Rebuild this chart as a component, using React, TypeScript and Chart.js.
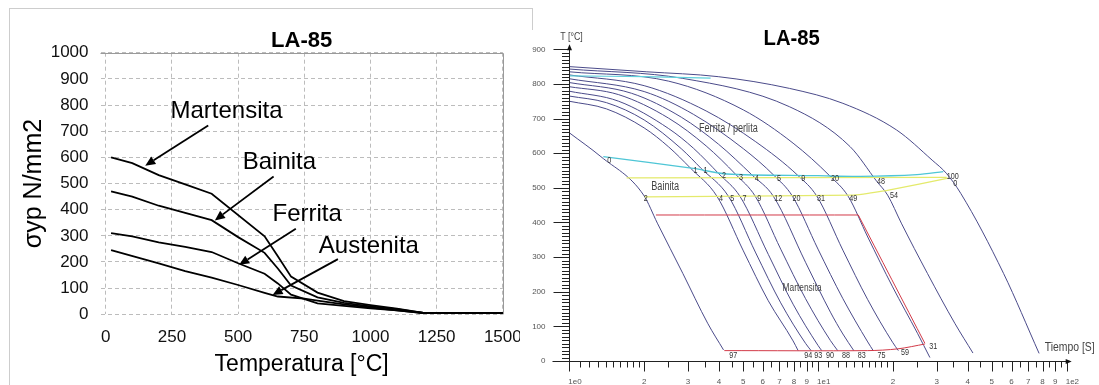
import React, { useEffect, useRef } from 'react';
import { Chart, registerables } from 'chart.js';

Chart.register(...registerables);

const FONT = '"Liberation Sans", Arial, Helvetica, sans-serif';
Chart.defaults.font.family = FONT;

// ---------------- Left chart (yield stress vs temperature) ----------------
const leftTitle = 'LA-85';
const leftXTitle = 'Temperatura [°C]';
const leftYTitle = 'σyp N/mm2';
const tempTicks = [0, 250, 500, 750, 1000, 1250, 1500];

const martX = [20, 100, 200, 300, 400, 600, 650, 700, 800, 900, 1000, 1100, 1200, 1500];
const martY = [600, 578, 532, 497, 461, 298, 222, 144, 83, 50, 35, 22, 5, 5];
const bainX = [20, 100, 200, 300, 400, 500, 600, 650, 700, 800, 900, 1000, 1100, 1200, 1500];
const bainY = [470, 450, 415, 388, 360, 295, 235, 175, 110, 65, 44, 30, 20, 5, 5];
const ferrX = [20, 100, 200, 300, 400, 500, 600, 650, 700, 800, 900, 1000, 1100, 1200, 1500];
const ferrY = [310, 298, 275, 258, 238, 195, 155, 118, 75, 42, 32, 23, 15, 5, 5];
const austX = [20, 200, 300, 400, 500, 600, 650, 750, 800, 900, 1000, 1100, 1200, 1500];
const austY = [245, 195, 165, 140, 112, 82, 68, 60, 52, 38, 26, 15, 5, 5];

const annLabels = ['Martensita', 'Bainita', 'Ferrita', 'Austenita'];
const annTextX = [456, 656, 761, 994];
const annTextY = [776, 582, 381, 259];
const annFromX = [387, 634, 718, 877];
const annFromY = [722, 527, 327, 211];
const annToX = [149, 412, 504, 630];
const annToY = [568, 359, 189, 74];

// ---------------- Right chart (CCT diagram) ----------------
const rightTitle = 'LA-85';
const rightYTitle = 'T [°C]';
const rightXTitle = 'Tiempo [S]';

const tA = [1, 1.34, 1.99, 2.26, 2.86, 3.6, 4.17];
const TA = [659, 590, 479, 398, 253, 109, 32];
const tB = [1, 1.41, 2.0, 2.51, 3.07, 3.92, 5.01, 6.31, 7.94, 8.32];
const TB = [750, 728, 673, 618, 557, 476, 318, 174, 58, 30];
const tC = [1, 1.41, 2.0, 2.82, 3.39, 4.36, 5.62, 7.08, 8.91, 9.38];
const TC = [765, 746, 696, 613, 556, 476, 312, 168, 51, 30];
const tD = [1, 1.58, 2.51, 3.16, 4.0, 4.85, 6.31, 7.94, 10.0, 10.35];
const TD = [779, 750, 671, 614, 540, 476, 308, 164, 45, 30];
const tE = [1, 1.58, 2.51, 3.55, 4.68, 5.59, 7.08, 8.91, 11.22, 12.0];
const TE = [792, 769, 701, 621, 538, 476, 323, 180, 59, 30];
const tF = [1, 1.78, 2.82, 3.98, 5.43, 6.61, 8.91, 11.22, 12.59, 13.93];
const TF = [804, 773, 704, 626, 537, 476, 285, 141, 78, 30];
const tG = [1, 2.0, 3.16, 5.01, 6.65, 7.89, 10.0, 12.59, 15.85, 16.67];
const TG = [815, 778, 712, 613, 536, 476, 323, 180, 55, 30];
const tH = [1, 2.0, 3.55, 5.62, 8.32, 9.89, 12.59, 15.85, 19.95, 21.04];
const TH = [826, 795, 722, 633, 535, 476, 320, 177, 54, 30];
const tI = [1, 2.51, 5.01, 7.94, 11.17, 13.21, 15.85, 19.95, 25.12, 28.18];
const TI = [835, 808, 725, 629, 534, 476, 358, 214, 80, 10];
const tJ = [1, 2.86, 7.69, 13.46, 17.26, 19.05, 21.63, 27.54, 35.48, 41.98];
const TJ = [843, 816, 734, 619, 518, 479, 398, 253, 109, 23];
const tK = [1, 2.05, 3.97, 7.69, 12.59, 20.7, 28.77, 32.81, 37.5, 55.72, 77.45];
const TK = [850, 835, 821, 787, 744, 667, 580, 542, 484, 253, 22];

const ferStartTopT = [1, 2, 3.7];
const ferStartTopTemp = [823, 821, 817];
const ferStartT = [1.37, 3.15, 4.3, 10, 14.8, 25, 31.9];
const ferStartTemp = [590, 556, 540, 535, 533, 538, 547];
const baiStartT = [1.7, 32.9];
const baiStartTemp = [529, 530];
const baiEndT = [2.01, 13.87, 16.6, 19.45, 33.4];
const baiEndTemp = [474, 479, 486, 494, 528];
const msT = [2.23, 14.52];
const msTemp = [421.6, 421.6];
const msDiagT = [14.52, 26.9];
const msDiagTemp = [421.6, 51];
const mfT = [4.2, 15.85, 20.9, 26.9];
const mfTemp = [30, 30, 35, 49];

const ferLabels = ['0', '1', '1', '2', '3', '4', '5', '9', '20', '48', '100', '0'];
const ferLabelT = [1.449, 3.22, 3.53, 4.19, 4.9, 5.67, 6.97, 8.73, 11.7, 17.9, 34.8, 35.6];
const ferLabelTemp = [580, 549, 551, 535, 530, 528, 526, 526, 526, 518, 534, 513];
const baiLabels = ['2', '4', '5', '7', '9', '12', '20', '31', '49', '54'];
const baiLabelT = [2.03, 4.07, 4.52, 5.06, 5.81, 6.92, 8.2, 10.28, 13.87, 20.2];
const baiLabelTemp = [468, 468, 468, 468, 468, 468, 468, 468, 468, 479];
const endLabels = ['97', '94', '93', '90', '88', '83', '75', '59', '31'];
const endLabelT = [4.56, 9.14, 10.03, 11.17, 12.97, 15.0, 18.0, 22.4, 29.1];
const endLabelTemp = [17, 17, 17, 17, 17, 17, 17, 24, 41];

const regionLabels = ['Ferrita / perlita', 'Bainita', 'Martensita'];
const regionLabelT = [4.36, 2.43, 8.63];
const regionLabelTemp = [672, 502, 210];

const yMajor = [0, 100, 200, 300, 400, 500, 600, 700, 800, 900];
const xMajor = [1, 2, 3, 4, 5, 6, 7, 8, 9, 10, 20, 30, 40, 50, 60, 70, 80, 90, 100];
const xMajorLabels = ['1e0', '2', '3', '4', '5', '6', '7', '8', '9', '1e1', '2', '3', '4', '5', '6', '7', '8', '9', '1e2'];
const xMinor = [1.1, 1.2, 1.3, 1.4, 1.5, 1.6, 1.7, 1.8, 1.9, 2.5, 3.5, 4.5, 5.5, 6.5, 7.5, 8.5, 9.5,
  11, 12, 13, 14, 15, 16, 17, 18, 19, 25, 35, 45, 55, 65, 75, 85, 95];

const NAVY = '#4b4b8a';

function arrow(ctx: CanvasRenderingContext2D, x1: number, y1: number, x2: number, y2: number) {
  const a = Math.atan2(y2 - y1, x2 - x1);
  const L = 10, W = 4.5;
  const bx = x2 - L * Math.cos(a), by = y2 - L * Math.sin(a);
  ctx.beginPath(); ctx.moveTo(x1, y1); ctx.lineTo(bx, by); ctx.stroke();
  ctx.beginPath();
  ctx.moveTo(x2, y2);
  ctx.lineTo(bx + W * Math.sin(a), by - W * Math.cos(a));
  ctx.lineTo(bx - W * Math.sin(a), by + W * Math.cos(a));
  ctx.closePath(); ctx.fill();
}

function txt(ctx: CanvasRenderingContext2D, s: string, x: number, y: number, size: number, sx: number,
  color: string, align: CanvasTextAlign = 'center', weight = 'normal') {
  ctx.save();
  ctx.translate(x, y);
  ctx.scale(sx, 1);
  ctx.font = `${weight} ${size}px ${FONT}`;
  ctx.fillStyle = color;
  ctx.textAlign = align;
  ctx.textBaseline = 'middle';
  ctx.fillText(s, 0, 0);
  ctx.restore();
}

const leftPlugin = {
  id: 'leftAnn',
  afterDatasetsDraw(chart: any) {
    const { ctx, chartArea: ca, scales: { x, y } } = chart;
    ctx.save();
    ctx.strokeStyle = '#9a9a9a';
    ctx.lineWidth = 1;
    ctx.setLineDash([]);
    ctx.beginPath();
    ctx.moveTo(ca.left, Math.round(ca.top) + 0.5);
    ctx.lineTo(Math.round(ca.right) + 0.5, Math.round(ca.top) + 0.5);
    ctx.lineTo(Math.round(ca.right) + 0.5, ca.bottom);
    ctx.stroke();
    ctx.strokeStyle = '#000';
    ctx.fillStyle = '#000';
    ctx.lineWidth = 1.8;
    annLabels.forEach((s, i) => {
      txt(ctx, s, x.getPixelForValue(annTextX[i]), y.getPixelForValue(annTextY[i]), 24, 1, '#000');
      arrow(ctx, x.getPixelForValue(annFromX[i]), y.getPixelForValue(annFromY[i]),
        x.getPixelForValue(annToX[i]), y.getPixelForValue(annToY[i]));
    });
    ctx.restore();
  },
};

function LeftChart() {
  const ref = useRef<HTMLCanvasElement>(null);
  useEffect(() => {
    if (!ref.current) return;
    const mk = (xs: number[], ys: number[]) => ({
      data: xs.map((v, i) => ({ x: v, y: ys[i] })),
      borderColor: '#000', borderWidth: 1.8, pointRadius: 0, showLine: true, tension: 0,
    });
    const chart = new Chart(ref.current, {
      type: 'scatter',
      data: { datasets: [mk(martX, martY), mk(bainX, bainY), mk(ferrX, ferrY), mk(austX, austY)] as any },
      options: {
        animation: false, responsive: false, maintainAspectRatio: false, devicePixelRatio: 1,
        layout: { padding: { left: 0, right: 37.2, top: 0, bottom: 0 } },
        plugins: {
          legend: { display: false }, tooltip: { enabled: false },
          title: {
            display: true, text: leftTitle, fullSize: false, color: '#000',
            font: { size: 22, weight: 'bold', lineHeight: 1 }, padding: { top: 29.5, bottom: 1.2 },
          },
        },
        scales: {
          x: {
            type: 'linear', min: -20, max: 1500,
            afterBuildTicks: (s: any) => { s.ticks = tempTicks.map((v) => ({ value: v })); },
            afterFit: (s: any) => { s.height = 70.7; },
            ticks: { color: '#111', font: { size: 17 }, padding: 12.5, maxRotation: 0, autoSkip: false,
              callback: (v: any) => String(v) },
            grid: { color: '#bcbcbc', lineWidth: 1, drawTicks: false },
            border: { display: false, dash: [4, 3] },
            title: { display: true, text: leftXTitle, color: '#000', font: { size: 23 }, padding: { top: 0, bottom: 6.2 } },
          },
          y: {
            type: 'linear', min: 0, max: 1000,
            afterFit: (s: any) => { s.width = 100.5; },
            ticks: { stepSize: 100, color: '#111', font: { size: 17 }, padding: 12, callback: (v: any) => String(v) },
            grid: { color: '#bcbcbc', lineWidth: 1, drawTicks: false },
            border: { display: false, dash: [4, 3] },
            title: { display: true, text: leftYTitle, color: '#000', font: { size: 25 }, padding: { top: 19.4, bottom: 0 } },
          },
        },
      } as any,
      plugins: [leftPlugin],
    });
    return () => chart.destroy();
  }, []);
  return <canvas ref={ref} width={540} height={385}
    style={{ position: 'absolute', left: 0, top: 0, width: 540, height: 385 }} />;
}

const rightPlugin = {
  id: 'rightAxes',
  afterDatasetsDraw(chart: any) {
    const { ctx, scales: { x, y } } = chart;
    const x0 = Math.round(x.getPixelForValue(1)) + 0.5;
    const y0 = Math.round(y.getPixelForValue(0)) + 0.5;
    const yTop = y.getPixelForValue(900);
    const xEnd = x.getPixelForValue(100);
    ctx.save();
    ctx.strokeStyle = '#222';
    ctx.fillStyle = '#111';
    ctx.lineWidth = 1;
    ctx.beginPath();
    ctx.moveTo(x0, y0); ctx.lineTo(x0, yTop - 2);
    ctx.moveTo(x0 - 17, y0); ctx.lineTo(xEnd + 2, y0);
    for (let v = 10; v < 900; v += 10) {
      const py = Math.round(y.getPixelForValue(v)) + 0.5;
      if (v % 100 === 0) { ctx.moveTo(x0 - 16, py); } else { ctx.moveTo(x0 - 7.5, py); }
      ctx.lineTo(x0, py);
    }
    const p9 = Math.round(yTop) + 0.5;
    ctx.moveTo(x0 - 16, p9); ctx.lineTo(x0, p9);
    xMajor.forEach((v) => {
      const px = Math.round(x.getPixelForValue(v)) + 0.5;
      ctx.moveTo(px, y0); ctx.lineTo(px, y0 + 10);
    });
    xMinor.forEach((v) => {
      const px = Math.round(x.getPixelForValue(v)) + 0.5;
      ctx.moveTo(px, y0); ctx.lineTo(px, y0 + 6);
    });
    ctx.stroke();
    // arrow heads
    ctx.beginPath();
    ctx.moveTo(x0, yTop - 5); ctx.lineTo(x0 - 2.5, yTop + 1); ctx.lineTo(x0 + 2.5, yTop + 1); ctx.closePath(); ctx.fill();
    ctx.beginPath();
    ctx.moveTo(xEnd + 5, y0); ctx.lineTo(xEnd - 1, y0 - 2.5); ctx.lineTo(xEnd - 1, y0 + 2.5); ctx.closePath(); ctx.fill();
    // tick labels
    yMajor.forEach((v) => {
      txt(ctx, String(v), x0 - 24, y.getPixelForValue(v), 8, 1, '#555', 'right');
    });
    xMajor.forEach((v, i) => {
      const px = x.getPixelForValue(v);
      const lab = xMajorLabels[i];
      if (lab.startsWith('1e')) txt(ctx, lab, px - 1, y0 + 20, 8, 1, '#555', 'left');
      else txt(ctx, lab, px, y0 + 20, 8, 1, '#555', 'center');
    });
    // axis titles
    txt(ctx, rightYTitle, x0 + 2, yTop - 12, 11, 0.8, '#444');
    txt(ctx, rightXTitle, xEnd + 3, y0 - 14, 13, 0.8, '#444');
    // numeric labels
    const num = (labs: string[], ts: number[], Ts: number[]) => labs.forEach((s, i) =>
      txt(ctx, s, x.getPixelForValue(ts[i]), y.getPixelForValue(Ts[i]), 9, 0.8, '#333'));
    num(ferLabels, ferLabelT, ferLabelTemp);
    num(baiLabels, baiLabelT, baiLabelTemp);
    num(endLabels, endLabelT, endLabelTemp);
    const sizes = [12, 12, 11];
    regionLabels.forEach((s, i) =>
      txt(ctx, s, x.getPixelForValue(regionLabelT[i]), y.getPixelForValue(regionLabelTemp[i]), sizes[i], 0.76, '#444'));
    // title
    txt(ctx, rightTitle, 271.7, 38.5, 22, 0.92, '#000', 'center', 'bold');
    ctx.restore();
  },
};

function RightChart() {
  const ref = useRef<HTMLCanvasElement>(null);
  useEffect(() => {
    if (!ref.current) return;
    const curve = (ts: number[], Ts: number[]) => ({
      data: ts.map((v, i) => ({ x: v, y: Ts[i] })),
      borderColor: NAVY, borderWidth: 1, pointRadius: 0, showLine: true,
      cubicInterpolationMode: 'monotone', order: 2,
    });
    const line = (ts: number[], Ts: number[], color: string, w = 1.2) => ({
      data: ts.map((v, i) => ({ x: v, y: Ts[i] })),
      borderColor: color, borderWidth: w, pointRadius: 0, showLine: true, tension: 0.3, order: 1,
    });
    const chart = new Chart(ref.current, {
      type: 'scatter',
      data: {
        datasets: [
          curve(tA, TA), curve(tB, TB), curve(tC, TC), curve(tD, TD), curve(tE, TE), curve(tF, TF),
          curve(tG, TG), curve(tH, TH), curve(tI, TI), curve(tJ, TJ), curve(tK, TK),
          line(ferStartTopT, ferStartTopTemp, '#5fd0dc'),
          line(ferStartT, ferStartTemp, '#4fc6d6', 1.3),
          line(baiStartT, baiStartTemp, '#e4ea6c', 1.3),
          line(baiEndT, baiEndTemp, '#e4ea6c', 1.3),
          line(msT, msTemp, '#d23a48', 1),
          line(msDiagT, msDiagTemp, '#d23a48', 1),
          line(mfT, mfTemp, '#d23a48', 1),
        ] as any,
      },
      options: {
        animation: false, responsive: false, maintainAspectRatio: false, devicePixelRatio: 1,
        layout: { padding: { left: 49.3, right: 32.3, top: 49.3, bottom: 24 } },
        plugins: { legend: { display: false }, tooltip: { enabled: false }, title: { display: false } },
        scales: {
          x: { type: 'logarithmic', min: 1, max: 100, display: false },
          y: { type: 'linear', min: 0, max: 900, display: false },
        },
      } as any,
      plugins: [rightPlugin],
    });
    return () => chart.destroy();
  }, []);
  return <canvas ref={ref} width={579} height={385}
    style={{ position: 'absolute', left: 520, top: 0, width: 579, height: 385 }} />;
}

export default function App() {
  return (
    <div style={{ position: 'fixed', left: 0, top: 0, width: 1099, height: 385, background: '#fff', overflow: 'hidden' }}>
      <div style={{ position: 'absolute', left: 9, top: 8, width: 522, height: 420, border: '1px solid #cdcdcd' }} />
      <LeftChart />
      <div style={{ position: 'absolute', left: 520, top: 30, width: 579, height: 355, background: '#fff' }} />
      <RightChart />
    </div>
  );
}
